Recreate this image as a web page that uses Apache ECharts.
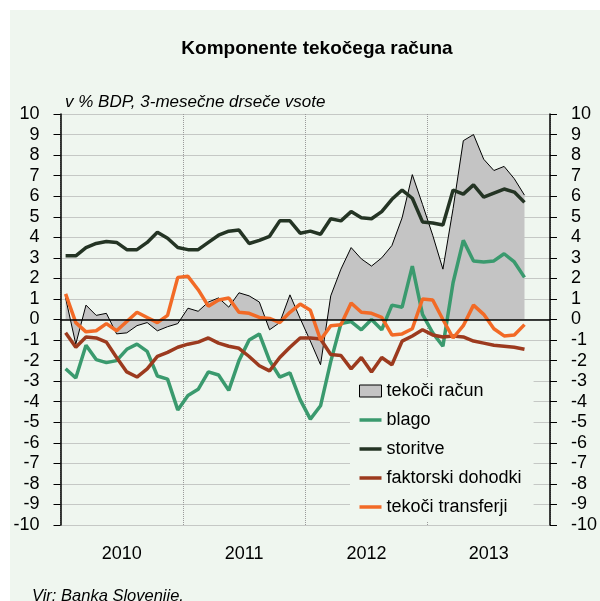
<!DOCTYPE html>
<html>
<head>
<meta charset="utf-8">
<script src="https://cdn.jsdelivr.net/npm/echarts@6/dist/echarts.min.js"></script>
<style>
  html, body { margin: 0; padding: 0; background: #fff; }
  #chart {
    width: 600px; height: 601px;
    background: linear-gradient(#eff6ef, #eff6ef) 10px 10px / 590px 591px no-repeat, #fff;
  }
</style>
</head>
<body>
<div id="chart"></div>
<script>
// leta na osi x, mesečni podatki od jan 2010
const years = ['2010', '2011', '2012', '2013'];
const months = years.flatMap(y => Array.from({ length: 12 }, (_, m) => y + '-' + String(m + 1).padStart(2, '0')));

const tekociRacun = [1.05, -1.2, 0.7, 0.2, 0.3, -0.7, -0.65, -0.3, -0.15, -0.55, -0.35, -0.2,
  0.55, 0.4, 0.85, 1.05, 0.6, 1.3, 1.15, 0.85, -0.5, -0.15, 1.2, 0.05,
  -1.05, -2.2, 1.15, 2.45, 3.5, 2.95, 2.6, 3.0, 3.6, 4.95, 7.05, 5.6,
  4.1, 2.45, 5.4, 8.7, 9.0, 7.8, 7.25, 7.45, 6.85, 6.05];
const blago = [-2.4, -2.85, -1.25, -1.95, -2.1, -2.0, -1.45, -1.2, -1.55, -2.75, -2.9, -4.4,
  -3.7, -3.4, -2.55, -2.7, -3.45, -2.0, -1.0, -0.7, -2.0, -2.8, -2.6, -3.9,
  -4.85, -4.2, -2.05, -0.2, -0.1, -0.5, 0.0, -0.5, 0.7, 0.6, 2.6, 0.25,
  -0.65, -1.3, 1.8, 3.85, 2.85, 2.8, 2.85, 3.2, 2.8, 2.05];
const storitve = [3.1, 3.1, 3.5, 3.7, 3.8, 3.75, 3.4, 3.4, 3.75, 4.25, 3.95, 3.5,
  3.4, 3.4, 3.75, 4.1, 4.3, 4.35, 3.7, 3.85, 4.05, 4.8, 4.8, 4.2,
  4.3, 4.15, 4.9, 4.8, 5.25, 4.95, 4.9, 5.25, 5.85, 6.3, 5.9, 4.75,
  4.7, 4.6, 6.3, 6.1, 6.55, 5.95, 6.15, 6.35, 6.2, 5.7];
const faktorski = [-0.65, -1.35, -0.85, -0.9, -1.1, -1.85, -2.55, -2.8, -2.4, -1.8, -1.6, -1.35,
  -1.2, -1.1, -0.9, -1.15, -1.3, -1.4, -1.8, -2.25, -2.5, -1.85, -1.35, -0.9,
  -0.9, -0.95, -1.7, -1.75, -2.4, -1.85, -2.55, -1.85, -2.2, -1.05, -0.8, -0.5,
  -0.75, -0.85, -0.8, -0.85, -1.05, -1.15, -1.25, -1.3, -1.35, -1.45];
const transferji = [1.25, -0.15, -0.6, -0.55, -0.2, -0.55, -0.1, 0.35, 0.1, -0.15, 0.2, 2.05,
  2.1, 1.45, 0.65, 0.95, 1.05, 0.35, 0.3, 0.1, 0.05, -0.15, 0.35, 0.75,
  0.45, -1.0, -0.3, -0.25, 0.8, 0.35, 0.3, 0.1, -0.75, -0.7, -0.45, 1.0,
  0.95, 0.0, -0.9, -0.3, 0.7, 0.25, -0.45, -0.8, -0.75, -0.25];

const FONT = "'Liberation Sans', Arial, sans-serif";
const BG = '#eff6ef';
const GRID_LINE = { show: true, lineStyle: { color: '#9a9a9a', type: 'dotted', width: 1 } };
const LINE_ICON = 'path://M0,0H22V3.5H0Z';

function lineSeries(name, data, color) {
  return {
    name, type: 'line', data, color,
    symbol: 'none', z: 3,
    lineStyle: { width: 3.5, color }
  };
}

const chart = echarts.init(document.getElementById('chart'));
chart.setOption({
  backgroundColor: 'transparent',
  animation: false,
  textStyle: { fontFamily: FONT },
  title: [
    { text: 'Komponente tekočega računa', left: 312, top: 34, textAlign: 'center',
      textStyle: { fontFamily: FONT, fontSize: 19, fontWeight: 'bold', color: '#000' } },
    { text: 'v % BDP, 3-mesečne drseče vsote', left: 60, top: 89,
      textStyle: { fontFamily: FONT, fontSize: 17, fontStyle: 'italic', fontWeight: 'normal', color: '#000' } },
    { text: 'Vir: Banka Slovenije.', left: 27, top: 583,
      textStyle: { fontFamily: FONT, fontSize: 16.5, fontStyle: 'italic', fontWeight: 'normal', color: '#000' } }
  ],
  grid: { left: 60.5, right: 46.5, top: 114, bottom: 76 },
  legend: {
    orient: 'vertical',
    left: 350, top: 378,
    padding: [2, 12, 4, 9],
    backgroundColor: BG,
    itemWidth: 22, itemHeight: 12, itemGap: 7,
    textStyle: { fontFamily: FONT, fontSize: 18, color: '#000', lineHeight: 22 },
    data: [
      { name: 'tekoči račun', icon: 'rect', itemStyle: { color: '#c4c4c4', borderColor: '#000', borderWidth: 1 } },
      { name: 'blago', icon: LINE_ICON },
      { name: 'storitve', icon: LINE_ICON },
      { name: 'faktorski dohodki', icon: LINE_ICON },
      { name: 'tekoči transferji', icon: LINE_ICON }
    ]
  },
  xAxis: [
    { type: 'category', data: months, show: false },
    {
      type: 'category', data: years, position: 'bottom',
      axisLine: { show: false }, axisTick: { show: false },
      axisLabel: { fontSize: 18, color: '#000', margin: 20, fontFamily: FONT },
      splitLine: Object.assign({ interval: 0 }, GRID_LINE)
    }
  ],
  yAxis: [
    {
      type: 'value', min: -10, max: 10, interval: 1, position: 'left',
      axisLine: { show: true, lineStyle: { color: '#000', width: 1.5 } },
      axisTick: { show: true, length: 7, lineStyle: { color: '#000' } },
      axisLabel: { fontSize: 18, color: '#000', margin: 21, fontFamily: FONT },
      splitLine: GRID_LINE
    },
    {
      type: 'value', min: -10, max: 10, interval: 1, position: 'right',
      axisLine: { show: true, lineStyle: { color: '#000', width: 1.5 } },
      axisTick: { show: true, length: 7, lineStyle: { color: '#000' } },
      axisLabel: { fontSize: 18, color: '#000', margin: 21, fontFamily: FONT },
      splitLine: { show: false }
    }
  ],
  series: [
    {
      name: 'tekoči račun', type: 'line', data: tekociRacun, symbol: 'none', z: 1,
      itemStyle: { color: '#c4c4c4', borderColor: '#000', borderWidth: 1 },
      lineStyle: { color: '#000', width: 1 },
      areaStyle: { color: '#c4c4c4', opacity: 1 },
      markLine: {
        silent: true, symbol: 'none', label: { show: false },
        lineStyle: { color: '#000', type: 'solid', width: 1.5 },
        data: [{ yAxis: 0 }]
      }
    },
    lineSeries('blago', blago, '#3a9a6e'),
    lineSeries('storitve', storitve, '#243424'),
    lineSeries('faktorski dohodki', faktorski, '#9c3a1e'),
    lineSeries('tekoči transferji', transferji, '#f26a26')
  ]
});
</script>
</body>
</html>
